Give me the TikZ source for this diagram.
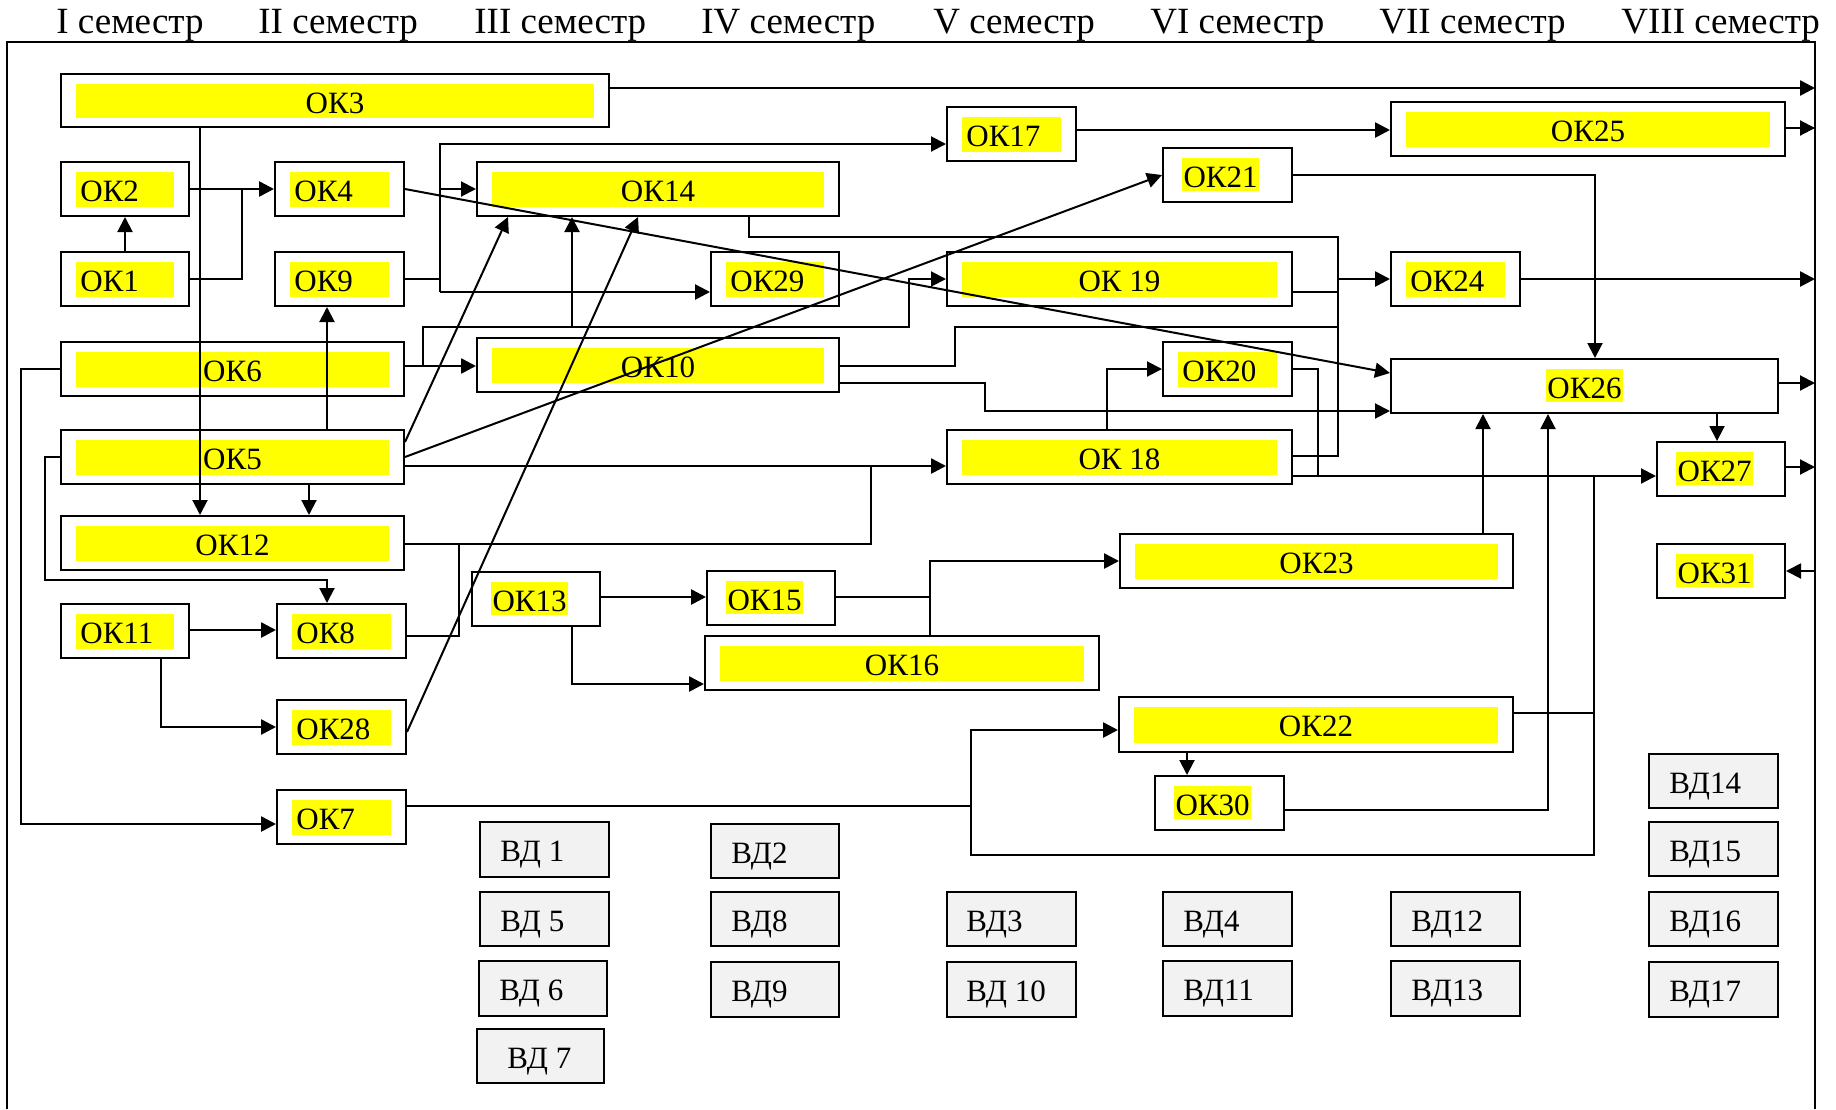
\documentclass[tikz,border=0pt]{standalone}
\usepackage{fontspec}
\setmainfont{Liberation Serif}
\usetikzlibrary{fit,calc,arrows.meta}
\definecolor{okyellow}{HTML}{FFFF00}
\definecolor{vdgray}{HTML}{F2F2F2}
\newcommand\lblfont{\fontsize{15.5}{18}\selectfont}
\newcommand\hdrfont{\fontsize{18.5}{22}\selectfont}
\tikzset{
  bx/.style={draw, line width=1pt, inner sep=0pt},
  vdbx/.style={draw, fill=vdgray, line width=1pt, inner sep=0pt},
  lbl/.style={font=\lblfont, inner sep=0pt},
  hl/.style={lbl, fill=okyellow, inner xsep=0.6pt, inner ysep=0pt, text height=14.5pt, text depth=2pt},
  hdr/.style={font=\hdrfont, inner sep=0pt, anchor=base west},
  ln/.style={line width=1pt},
  arr/.style={ln, -{Triangle[length=7.5pt,width=7.5pt]}},
  tk/.style={line width=1.3pt},
}
% name x1 y1 x2 y2 label
\newcommand\FullBox[6]{%
  \node[bx, fit={(#2,#3) (#4,#5)}] (#1) {};
  \fill[okyellow] ([shift={(16,11)}]#1.north west) rectangle ([shift={(-16,-10)}]#1.south east);
  \node[lbl, anchor=base] (#1t) at ([shift={(0,40)}]#1.north) {#6};
}
\newcommand\LeftBox[6]{%
  \node[bx, fit={(#2,#3) (#4,#5)}] (#1) {};
  \fill[okyellow] ([shift={(16,11)}]#1.north west) rectangle ([shift={(-16,-10)}]#1.south east);
  \node[lbl, anchor=base west] (#1t) at ([shift={(20,40)}]#1.north west) {#6};
}
\newcommand\HlBox[6]{%
  \node[bx, fit={(#2,#3) (#4,#5)}] (#1) {};
  \node[hl, anchor=base west] (#1t) at ([shift={(20,40)}]#1.north west) {#6};
}
\newcommand\HlCBox[6]{%
  \node[bx, fit={(#2,#3) (#4,#5)}] (#1) {};
  \node[hl, anchor=base] (#1t) at ([shift={(0,40)}]#1.north) {#6};
}
\newcommand\VDBox[7]{%
  \node[vdbx, fit={(#2,#3) (#4,#5)}] (#1) {};
  \node[lbl, anchor=base west] (#1t) at ([shift={(#7,40)}]#1.north west) {#6};
}
\begin{document}
\begin{tikzpicture}[x=0.5pt, y=-0.5pt]
\useasboundingbox (0,0) rectangle (1836,1109);
% frame
\coordinate (frameL) at (7,42);
\coordinate (frameR) at (1815,42);
\draw[line width=1.1pt] (frameL |- 0,1109) -- (frameL) -- (frameR) -- (frameR |- 0,1109);
% headers
\node[hdr] (h1) at (56,33) {I семестр};
\node[hdr] (h2) at (258,33) {II семестр};
\node[hdr] (h3) at (474,33) {III семестр};
\node[hdr] (h4) at (701,33) {IV семестр};
\node[hdr] (h5) at (933,33) {V семестр};
\node[hdr] (h6) at (1150,33) {VI семестр};
\node[hdr] (h7) at (1379,33) {VII семестр};
\node[hdr] (h8) at (1621,33) {VIII семестр};
% centered full boxes
\FullBox{ok3}{61}{74}{609}{127}{ОК3}
\FullBox{ok14}{477}{162}{839}{216}{ОК14}
\FullBox{ok6}{61}{342}{404}{396}{ОК6}
\FullBox{ok10}{477}{338}{839}{392}{ОК10}
\FullBox{ok5}{61}{430}{404}{484}{ОК5}
\FullBox{ok12}{61}{516}{404}{570}{ОК12}
\FullBox{ok16}{705}{636}{1099}{690}{ОК16}
\FullBox{ok19}{947}{252}{1292}{306}{ОК 19}
\FullBox{ok18}{947}{430}{1292}{484}{ОК 18}
\FullBox{ok23}{1120}{534}{1513}{588}{ОК23}
\FullBox{ok22}{1119}{697}{1513}{752}{ОК22}
\FullBox{ok25}{1391}{102}{1785}{156}{ОК25}
% left full boxes
\LeftBox{ok2}{61}{162}{189}{216}{ОК2}
\LeftBox{ok4}{275}{162}{404}{216}{ОК4}
\LeftBox{ok1}{61}{252}{189}{306}{ОК1}
\LeftBox{ok9}{275}{252}{404}{306}{ОК9}
\LeftBox{ok29}{711}{252}{839}{306}{ОК29}
\LeftBox{ok17}{947}{107}{1076}{161}{ОК17}
\LeftBox{ok24}{1391}{252}{1520}{306}{ОК24}
\LeftBox{ok20}{1163}{342}{1292}{396}{ОК20}
\LeftBox{ok11}{61}{604}{189}{658}{ОК11}
\LeftBox{ok8}{277}{604}{406}{658}{ОК8}
\LeftBox{ok28}{277}{700}{406}{754}{ОК28}
\LeftBox{ok7}{277}{790}{406}{844}{ОК7}
% highlighted-text boxes
\HlBox{ok21}{1163}{148}{1292}{202}{ОК21}
\HlBox{ok13}{472}{572}{600}{626}{ОК13}
\HlBox{ok15}{707}{571}{835}{625}{ОК15}
\HlBox{ok27}{1657}{442}{1785}{496}{ОК27}
\HlBox{ok31}{1657}{544}{1785}{598}{ОК31}
\HlBox{ok30}{1155}{776}{1284}{830}{ОК30}
\HlCBox{ok26}{1391}{359}{1778}{413}{ОК26}
% elective boxes
\VDBox{vd1}{480}{822}{609}{877}{ВД 1}{21}
\VDBox{vd5}{480}{892}{609}{946}{ВД 5}{21}
\VDBox{vd6}{479}{961}{607}{1016}{ВД 6}{21}
\VDBox{vd7}{477}{1029}{604}{1083}{ВД 7}{31}
\VDBox{vd2}{711}{824}{839}{878}{ВД2}{21}
\VDBox{vd8}{711}{892}{839}{946}{ВД8}{21}
\VDBox{vd9}{711}{962}{839}{1017}{ВД9}{21}
\VDBox{vd3}{947}{892}{1076}{946}{ВД3}{20}
\VDBox{vd10}{947}{962}{1076}{1017}{ВД 10}{20}
\VDBox{vd4}{1163}{892}{1292}{946}{ВД4}{21}
\VDBox{vd11}{1163}{961}{1292}{1016}{ВД11}{21}
\VDBox{vd12}{1391}{892}{1520}{946}{ВД12}{21}
\VDBox{vd13}{1391}{961}{1520}{1016}{ВД13}{21}
\VDBox{vd14}{1649}{754}{1778}{808}{ВД14}{21}
\VDBox{vd15}{1649}{822}{1778}{876}{ВД15}{21}
\VDBox{vd16}{1649}{892}{1778}{946}{ВД16}{21}
\VDBox{vd17}{1649}{962}{1778}{1017}{ВД17}{21}
% junction coordinates
\coordinate (j1) at (242,189);
\coordinate (b1t) at (440,144);
\coordinate (b1b) at (440,292);
\coordinate (bus) at (1338,237);
\coordinate (lp) at (1594,476);
% connectors
\draw[arr, tk] (ok3.east |- 0,88) -- (frameR |- 0,88);
\draw[arr] (ok3.south -| 200,0) -- (ok12.north -| 200,0);
\draw[arr] (ok1.north) -- (ok2.south);
\draw[arr, tk] (ok2.east) -- (ok4.west);
\draw[ln] (ok1.east) -| (j1);
\draw[arr] (ok4.east) -- (ok26.west |- 0,373);
\draw[ln] (ok9.east) -- (b1t |- ok9.east);
\draw[arr] (b1b) -- (b1t) -- (ok17.west |- b1t);
\draw[arr] (b1t |- ok14.west) -- (ok14.west);
\draw[arr, tk] (b1b) -- (ok29.west |- b1b);
\draw[arr, tk] (ok6.east |- 0,366) -- (ok10.west |- 0,366);
\draw[arr] (423,366) |- (909,327) |- (ok19.west);
\draw[arr] (572,327) -- (ok14.south -| 572,0);
\draw[ln] (ok14.south -| 749,0) |- (bus) -- (bus |- 0,456) -- (ok18.east |- 0,456);
\draw[ln] (ok19.east |- 0,292) -- (bus |- 0,292);
\draw[arr, tk] (bus |- ok24.west) -- (ok24.west);
\draw[ln] (ok10.east |- 0,366) -| (955,327) -- (bus |- 0,327);
\draw[arr] (ok10.east |- 0,383) -| (985,411) -- (ok26.west |- 0,411);
\draw[arr] (ok18.north -| 1107,0) |- (ok20.west);
\draw[ln] (ok20.east) -| (1318,476);
\draw[arr] (ok18.east |- 0,476) -- (ok27.west |- 0,476);
\draw[arr] (ok21.east) -| (ok26.north -| 1595,0);
\draw[arr] (ok5.east) -- (ok21.west);
\draw[arr] (ok5.east |- 0,442) -- (ok14.south -| 508,0);
\draw[arr] (ok28.east |- 0,732) -- (ok14.south -| 638,0);
\draw[arr, tk] (ok5.east |- 0,466) -- (ok18.west |- 0,466);
\draw[ln] (ok12.east |- 0,544) -| (871,466);
\draw[ln] (ok8.east |- 0,636) -| (459,544);
\draw[arr] (ok5.west) -| (45,580) -| (ok8.north -| 327,0);
\draw[arr] (ok5.south -| 309,0) -- (ok12.north -| 309,0);
\draw[arr] (ok5.north -| 327,0) -- (ok9.south -| 327,0);
\draw[arr, tk] (ok11.east |- 0,630) -- (ok8.west |- 0,630);
\draw[arr, tk] (ok11.south -| 161,0) |- (ok28.west);
\draw[arr, tk] (ok13.east |- 0,597) -- (ok15.west |- 0,597);
\draw[arr, tk] (ok13.south -| 572,0) |- (ok16.west |- 0,684);
\draw[ln] (ok15.east |- 0,597) -- (930,597);
\draw[arr, tk] (ok16.north -| 930,0) |- (ok23.west);
\draw[arr] (ok23.north -| 1483,0) -- (ok26.south -| 1483,0);
\draw[arr] (ok30.east |- 0,810) -| (ok26.south -| 1548,0);
\draw[ln] (ok22.east |- 0,713) -- (lp |- 0,713);
\draw[arr, tk] (lp) -- (lp |- 0,855) -| (971,730) -- (ok22.west |- 0,730);
\draw[ln] (ok7.east |- 0,806) -- (971,806);
\draw[arr] (ok22.south -| 1187,0) -- (ok30.north -| 1187,0);
\draw[arr] (ok26.south -| 1717,0) -- (ok27.north -| 1717,0);
\draw[arr] (ok26.east |- 0,383) -- (frameR |- 0,383);
\draw[arr] (ok27.east |- 0,467) -- (frameR |- 0,467);
\draw[arr] (frameR |- ok31.east) -- (ok31.east);
\draw[arr] (ok25.east |- 0,128) -- (frameR |- 0,128);
\draw[arr, tk] (ok24.east) -- (frameR |- ok24.east);
\draw[arr, tk] (ok17.east |- 0,130) -- (ok25.west |- 0,130);
\draw[arr, tk] (ok6.west) -| (21,824) -- (ok7.west |- 0,824);
\end{tikzpicture}
\end{document}
